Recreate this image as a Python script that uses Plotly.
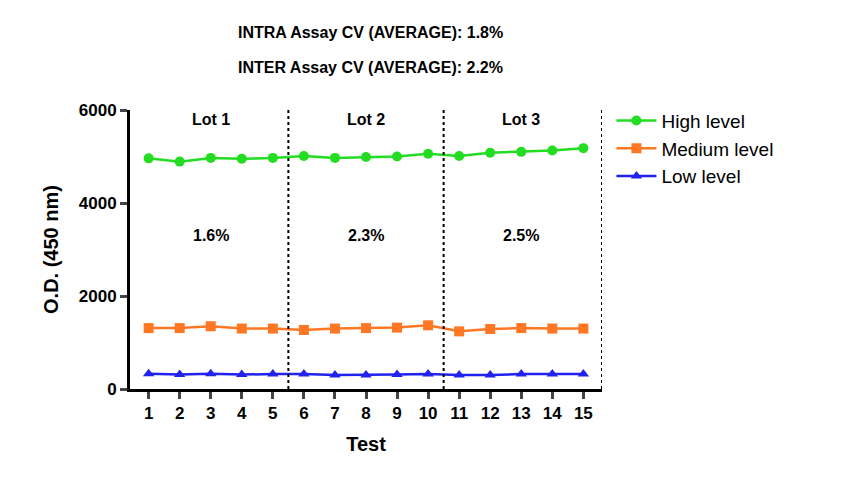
import plotly.graph_objects as go

tests = list(range(1, 16))
high = [4960, 4890, 4970, 4950, 4970, 5010, 4970, 4990, 5000, 5060, 5010, 5080, 5100, 5130, 5180]
medium = [1310, 1310, 1350, 1300, 1300, 1270, 1300, 1310, 1320, 1370, 1240, 1290, 1310, 1300, 1300]
low = [330, 310, 330, 310, 320, 320, 300, 300, 310, 320, 300, 300, 320, 320, 320]
lots = ["Lot 1", "Lot 2", "Lot 3"]
lot_centers = [3, 8, 13]
lot_cv = ["1.6%", "2.3%", "2.5%"]
dividers = [5.5, 10.5, 15.6]

F = "Liberation Sans, Arial, sans-serif"
fig = go.Figure()
fig.add_trace(go.Scatter(x=tests, y=high, name="High level", mode="lines+markers",
                         line=dict(color="#22DD22", width=2.5), marker=dict(symbol="circle", size=10)))
fig.add_trace(go.Scatter(x=tests, y=medium, name="Medium level", mode="lines+markers",
                         line=dict(color="#FF7722", width=2.5), marker=dict(symbol="square", size=10)))
fig.add_trace(go.Scatter(x=tests, y=low, name="Low level", mode="lines+markers",
                         line=dict(color="#2222EE", width=2.5), marker=dict(symbol="triangle-up", size=10)))
for d in dividers:
    fig.add_shape(type="line", x0=d, x1=d, y0=0, y1=6000, xref="x", yref="y",
                  line=dict(color="black", width=2, dash="dot"))
for c, l, v in zip(lot_centers, lots, lot_cv):
    fig.add_annotation(x=c, y=5800, text=f"<b>{l}</b>", showarrow=False, font=dict(size=16, color="black", family=F))
    fig.add_annotation(x=c, y=3300, text=f"<b>{v}</b>", showarrow=False, font=dict(size=16, color="black", family=F))
for txt, yp in [("<b>INTRA Assay CV (AVERAGE): 1.8%</b>", 22), ("<b>INTER Assay CV (AVERAGE): 2.2%</b>", 57)]:
    fig.add_annotation(x=(365 - 125) / 472, xref="paper", y=1 + (110 - yp) / 279, yref="paper",
                       text=txt, showarrow=False, font=dict(size=16, color="black", family=F))
fig.update_layout(
    width=841, height=484, plot_bgcolor="white", paper_bgcolor="white",
    margin=dict(l=122, r=247, t=102, b=103),
    font=dict(family=F, color="black"),
    xaxis=dict(range=[0.4, 15.6], tickvals=tests, showline=True, linecolor="black", linewidth=3,
               ticks="outside", ticklen=7, tickwidth=2.5, showgrid=False, zeroline=False,
               tickfont=dict(size=17, weight="bold"), title=dict(text="<b>Test</b>", font=dict(size=20), standoff=15)),
    yaxis=dict(range=[0, 6000], tickvals=[0, 2000, 4000, 6000], showline=True, linecolor="black", linewidth=3,
               ticks="outside", ticklen=7, tickwidth=2.5, showgrid=False, zeroline=False,
               tickfont=dict(size=17, weight="bold"), tickformat="d", title=dict(text="<b>O.D. (450 nm)</b>", font=dict(size=20))),
    legend=dict(x=1.02, y=1.03, xanchor="left", yanchor="top", font=dict(size=19), tracegroupgap=0,
                itemwidth=40),
    showlegend=True,
)
fig.write_html("out.html")
